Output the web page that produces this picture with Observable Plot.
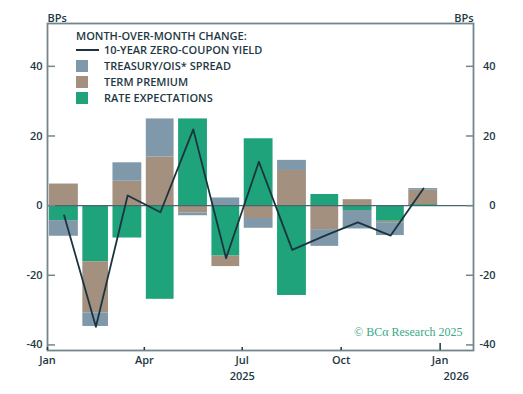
<!DOCTYPE html>
<html>
<head>
<meta charset="utf-8">
<script src="https://cdn.jsdelivr.net/npm/d3@7"></script>
<script src="https://cdn.jsdelivr.net/npm/@observablehq/plot@0.6"></script>
<style>
  html, body { margin: 0; padding: 0; background: #fff; }
  #wrap { position: relative; width: 523px; height: 394px; font-family: "Open Sans", sans-serif; }
  .leg { position: absolute; font: 600 11px "Open Sans", sans-serif; color: #1e3944; white-space: nowrap; line-height: 14px; }
  .sw { position: absolute; width: 12px; height: 12px; }
  .ln { position: absolute; width: 23px; height: 0; border-top: 2px solid #1b3440; }
</style>
</head>
<body>
<div id="wrap"></div>
<script>
// ---- data (basis points, month-over-month change) ----
const months = ["2025-01","2025-02","2025-03","2025-04","2025-05","2025-06","2025-07","2025-08","2025-09","2025-10","2025-11","2025-12"];
const rateExpectations = [-4.3, -16.1, -9.3, -26.9, 24.9, -14.5, 19.2, -25.8, 3.2, -1.4, -4.5, 0.3];
const termPremium      = [6.2, -14.7, 7.0, 14.0, -2.1, -3.0, -3.7, 10.1, -6.9, 1.7, -0.4, 4.1];
const tsySpread        = [-4.5, -3.9, 5.3, 10.9, -0.8, 2.2, -2.8, 2.9, -4.8, -5.3, -3.7, 0.5];
const zeroCouponYield  = [-2.8, -34.8, 2.9, -1.9, 21.9, -15.1, 12.6, -12.7, -8.6, -4.8, -8.6, 4.9];

const seriesNames = ["RATE EXPECTATIONS", "TERM PREMIUM", "TREASURY/OIS* SPREAD"];
const seriesColors = ["#1fa37a", "#a3907f", "#7f99ab"];
const lineName = "10-YEAR ZERO-COUPON YIELD";
const legendTitle = "MONTH-OVER-MONTH CHANGE:";
const yTicks = [-40, -20, 0, 20, 40];
const xTickDates = ["2025-01","2025-04","2025-07","2025-10","2026-01"];
const xTickLabels = ["Jan","Apr","Jul","Oct","Jan"];
const yearLabels = [{date: "2025-07", label: "2025"}, {date: "2026-01", label: "2026"}];
const unitLabel = "BPs";
const credit = "© BCα Research 2025";

// ---- build tables ----
const parse = s => new Date(s + "-01T00:00:00Z");
const seriesValues = [rateExpectations, termPremium, tsySpread];
const bars = [];
months.forEach((m, i) => {
  seriesNames.forEach((s, k) => bars.push({date: parse(m), series: s, value: seriesValues[k][i]}));
});
const linePts = months.map((m, i) => ({date: parse(m), value: zeroCouponYield[i]}));
const midMonth = d => new Date(+d + (d3.utcMonth.offset(d, 1) - d) / 2);
const tickDates = xTickDates.map(parse);
const labelOf = new Map(tickDates.map((d, i) => [+d, xTickLabels[i]]));
const textColor = "#1e3944";
const fmt = d => (d < 0 ? "-" + Math.abs(d) : String(d));

const chart = Plot.plot({
  width: 523,
  height: 394,
  marginLeft: 47,
  marginRight: 50,
  marginTop: 23,
  marginBottom: 44,
  style: {fontFamily: "'Open Sans', sans-serif", fontSize: "11px", fontWeight: 600, color: textColor, background: "#fff"},
  x: {type: "utc", domain: [parse("2025-01"), parse("2026-02")], axis: null},
  y: {domain: [-41.6, 52.3], axis: null},
  color: {domain: seriesNames, range: seriesColors},
  marks: [
    Plot.rectY(bars, {x: "date", y: "value", fill: "series", interval: "month", insetLeft: 2, insetRight: 2.5}),
    Plot.ruleY([0], {stroke: "#4a6470", strokeWidth: 1.2}),
    Plot.line(linePts, {x: d => midMonth(d.date), y: "value", stroke: "#1b3440", strokeWidth: 1.8}),
    Plot.frame({stroke: "#74868c", strokeWidth: 1.8}),
    Plot.axisY(yTicks, {anchor: "left", label: null, tickSize: -8, tickPadding: 13, tickFormat: fmt, stroke: "#74868c", strokeWidth: 1.5, fill: textColor}),
    Plot.axisY(yTicks, {anchor: "right", label: null, tickSize: -8, tickPadding: 30, textAnchor: "end", tickFormat: fmt, stroke: "#74868c", strokeWidth: 1.5, fill: textColor}),
    Plot.axisX(tickDates.slice(0, 4), {anchor: "bottom", label: null, tickSize: -3, tickPadding: 9, tickFormat: d => labelOf.get(+d), stroke: "#1e3944", strokeWidth: 1.5, fill: textColor}),
    Plot.axisX(tickDates.slice(4), {anchor: "bottom", label: null, tickSize: -7, tickPadding: 13, tickFormat: d => labelOf.get(+d), stroke: "#1e3944", strokeWidth: 1.5, fill: textColor}),
    Plot.text(yearLabels.slice(0, 1), {x: d => parse(d.date), text: "label", frameAnchor: "bottom", dy: 29, fill: textColor}),
    Plot.text(yearLabels.slice(1), {x: d => parse(d.date), text: "label", frameAnchor: "bottom", dy: 29, dx: 16, fill: textColor}),
    Plot.text([unitLabel], {text: d => d, frameAnchor: "top-left", textAnchor: "start", dy: -9, fill: textColor}),
    Plot.text([unitLabel], {text: d => d, frameAnchor: "top-right", textAnchor: "end", dy: -9, fill: textColor}),
    Plot.text([credit], {text: d => d, frameAnchor: "bottom-right", textAnchor: "end", dx: -11, dy: -15, fill: "#3aa985", fontFamily: "'Liberation Serif', serif", fontWeight: 400, fontSize: 12})
  ]
});

const wrap = document.getElementById("wrap");
wrap.appendChild(chart);

// ---- legend (inside the plot area, top-left) ----
const leg = (html, cls, left, top, extra) => {
  const el = document.createElement("div");
  el.className = cls;
  el.style.left = left + "px";
  el.style.top = top + "px";
  if (extra) Object.assign(el.style, extra);
  if (html != null) el.textContent = html;
  wrap.appendChild(el);
};
leg(legendTitle, "leg", 76, 29);
leg(null, "ln", 76, 49);
leg(lineName, "leg", 104, 43);
const legendOrder = [2, 1, 0];
legendOrder.forEach((k, i) => {
  const cy = 66 + i * 16;
  leg(null, "sw", 76, cy - 6, {background: seriesColors[k]});
  leg(seriesNames[k], "leg", 104, cy - 7);
});
</script>
</body>
</html>
